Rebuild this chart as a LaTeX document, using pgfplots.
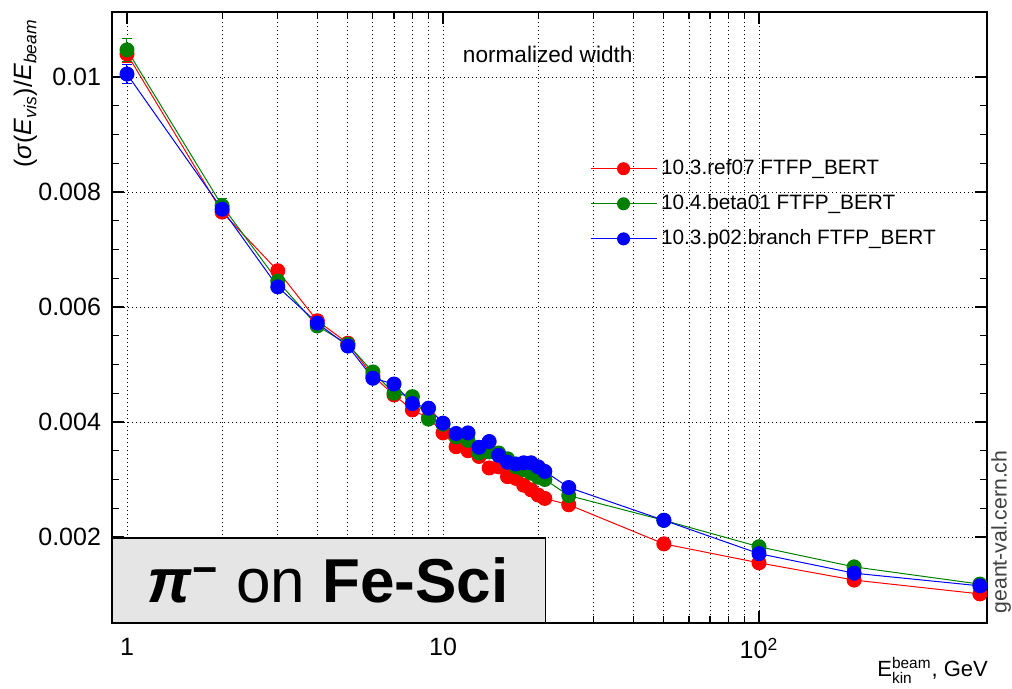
\documentclass[border=0pt]{standalone}
\usepackage{fontspec}
\setmainfont{Liberation Sans}
\usepackage{amsmath}
\usepackage{pgfplots}
\pgfplotsset{compat=1.18}
\usepackage{pgfplotstable}

\definecolor{rootgreen}{RGB}{0,128,0}
\definecolor{boxgray}{RGB}{229,229,229}

% E [GeV], normalized width, error
\pgfplotstableread{
E w err
1 0.01040 0.00015
2 0.00765 0.00010
3 0.00663 0.00005
4 0.00576 0.00005
5 0.00537 0.00005
6 0.00480 0.00004
7 0.00447 0.00004
8 0.00421 0.00004
9 0.00407 0.00004
10 0.00381 0.00004
11 0.00357 0.00004
12 0.00350 0.00004
13 0.00340 0.00004
14 0.00320 0.00004
15 0.00322 0.00004
16 0.00305 0.00004
17 0.00302 0.00004
18 0.00290 0.00004
19 0.00282 0.00004
20 0.00273 0.00004
21 0.00267 0.00004
25 0.00256 0.00004
50 0.00188 0.00003
100 0.00155 0.00003
200 0.00125 0.00003
500 0.00101 0.00003
}\refseven

\pgfplotstableread{
E w err
1 0.01047 0.00020
2 0.00776 0.00012
3 0.00645 0.00005
4 0.00567 0.00005
5 0.00535 0.00005
6 0.00487 0.00004
7 0.00450 0.00004
8 0.00444 0.00004
9 0.00405 0.00004
10 0.00396 0.00004
11 0.00374 0.00004
12 0.00368 0.00004
13 0.00346 0.00004
14 0.00348 0.00004
15 0.00346 0.00004
16 0.00336 0.00004
17 0.00322 0.00004
18 0.00317 0.00004
19 0.00311 0.00004
20 0.00304 0.00004
21 0.00300 0.00004
25 0.00272 0.00004
50 0.00229 0.00003
100 0.00183 0.00003
200 0.00148 0.00003
500 0.00118 0.00003
}\betazero

\pgfplotstableread{
E w err
1 0.01005 0.00017
2 0.00770 0.00010
3 0.00635 0.00005
4 0.00572 0.00005
5 0.00532 0.00005
6 0.00476 0.00004
7 0.00466 0.00004
8 0.00432 0.00004
9 0.00424 0.00004
10 0.00398 0.00004
11 0.00380 0.00004
12 0.00381 0.00004
13 0.00356 0.00004
14 0.00366 0.00004
15 0.00342 0.00004
16 0.00330 0.00004
17 0.00327 0.00004
18 0.00329 0.00004
19 0.00329 0.00004
20 0.00322 0.00004
21 0.00314 0.00004
25 0.00286 0.00004
50 0.00229 0.00003
100 0.00171 0.00003
200 0.00137 0.00003
500 0.00115 0.00003
}\ptwobranch

\pgfplotsset{
  rootplot/.style={
    color=#1, line width=0.5pt, mark=*, mark size=3.5pt,
    mark options={solid, fill=#1, draw=#1},
    error bars/.cd, y dir=both, y explicit,
    error bar style={#1, line width=0.5pt},
    error mark options={rotate=90, mark size=2.5pt, #1, line width=0.5pt},
  },
}

\begin{document}
\begin{tikzpicture}
\useasboundingbox (-56pt,-33pt) rectangle (450pt,311.5pt);
\begin{axis}[
  width=437.5pt, height=305.5pt, scale only axis,
  xmode=log,
  xmin=0.8965, xmax=526.7,
  ymin=0.000504, ymax=0.01113,
  clip=false,
  xtick={1,10,100},
  xticklabels={1,10,10\textsuperscript{2}},
  ytick={0.002,0.004,0.006,0.008,0.01},
  yticklabels={0.002,0.004,0.006,0.008,0.01},
  minor y tick num=3,
  scaled y ticks=false,
  tick align=inside,
  major tick length=6pt, minor tick length=3.5pt,
  every tick/.style={black, line width=0.6pt},
  axis line style={line width=0.75pt},
  xmajorgrids, xminorgrids, ymajorgrids,
  grid style={black, line width=0.4pt, dash pattern=on 0.5pt off 1.5pt},
  tick label style={font=\fontsize{12.5}{14}\selectfont},
  xticklabel style={yshift=-4pt},
  yticklabel style={xshift=-2pt},
  ylabel={(\textit{σ}(\textit{E}$_{\text{\itshape vis}}$)/\textit{E}$_{\text{\itshape beam}}$},
  ylabel style={at={(axis description cs:-0.099,1)}, anchor=east,
    font=\fontsize{12.5}{14}\selectfont},
  xlabel={E$^{\text{beam}}_{\text{kin}}$, GeV},
  xlabel style={at={(axis description cs:1.009,-0.087)}, anchor=base east,
    font=\fontsize{11}{13}\selectfont},
  legend style={at={(axis description cs:0.539,0.772)}, anchor=north west,
    draw=none, fill=none, font=\fontsize{10.4}{12}\selectfont, row sep=4.5pt},
  legend cell align=left,
  legend image code/.code={
    \draw[mark repeat=2, mark phase=2, #1, mark size=3pt]
      plot coordinates {(0cm,0cm) (0.58cm,0cm) (1.16cm,0cm)};},
]
\addplot[rootplot=red] table[x=E, y=w, y error=err] {\refseven};
\addlegendentry{10.3.ref07 FTFP\_BERT}
\addplot[rootplot=rootgreen] table[x=E, y=w, y error=err] {\betazero};
\addlegendentry{10.4.beta01 FTFP\_BERT}
\addplot[rootplot=blue] table[x=E, y=w, y error=err] {\ptwobranch};
\addlegendentry{10.3.p02.branch FTFP\_BERT}

\node[font=\fontsize{11.3}{13}\selectfont] at (axis description cs:0.498,0.930) {normalized width};
\draw[fill=boxgray, line width=0.6pt] (axis description cs:0,0) rectangle (axis description cs:0.495,0.139);
\node[font=\fontsize{31}{36}\selectfont] at (axis description cs:0.247,0.070)
  {\textbf{\textit{π}}\textsuperscript{\textbf{−}} on \textbf{Fe-Sci}};
\node[rotate=90, font=\fontsize{10.6}{12}\selectfont, text=black!75] at (axis description cs:1.016,0.149) {geant-val.cern.ch};
\end{axis}
\end{tikzpicture}
\end{document}
